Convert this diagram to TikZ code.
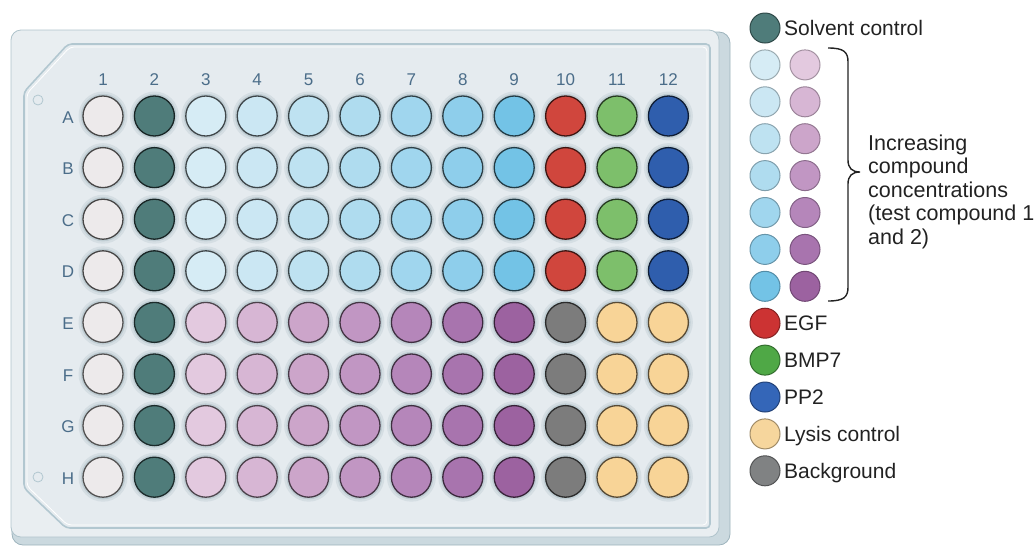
\documentclass[tikz,border=0pt]{standalone}
\usepackage{fontspec}
\setmainfont{Liberation Sans}
\definecolor{plateedge}{HTML}{CBD9DF}
\definecolor{plateedgeline}{HTML}{9DB3BC}
\definecolor{platetop}{HTML}{E9EEF1}
\definecolor{plateline}{HTML}{AFC3CB}
\definecolor{plateinner}{HTML}{E5EBEF}
\definecolor{innerline}{HTML}{B2C7D0}
\definecolor{halocol}{HTML}{8EA6B0}
\definecolor{labcol}{HTML}{4B6D89}
\definecolor{wwhite}{HTML}{EDEAEB}
\definecolor{wteal}{HTML}{4F7C7A}
\definecolor{b3}{HTML}{D6ECF5}
\definecolor{b4}{HTML}{CBE7F3}
\definecolor{b5}{HTML}{BEE2F1}
\definecolor{b6}{HTML}{AFDCEF}
\definecolor{b7}{HTML}{A0D6EE}
\definecolor{b8}{HTML}{8ECEEB}
\definecolor{b9}{HTML}{73C3E6}
\definecolor{p3}{HTML}{E3C9DF}
\definecolor{p4}{HTML}{D7B6D4}
\definecolor{p5}{HTML}{CCA5CA}
\definecolor{p6}{HTML}{C196C3}
\definecolor{p7}{HTML}{B586BA}
\definecolor{p8}{HTML}{A874AE}
\definecolor{p9}{HTML}{9C62A0}
\definecolor{wred}{HTML}{D0463D}
\definecolor{wgreen}{HTML}{7DBF6B}
\definecolor{wblue}{HTML}{2F5EAD}
\definecolor{wgray}{HTML}{7C7C7C}
\definecolor{wpeach}{HTML}{F8D497}
\definecolor{lred}{HTML}{CC3333}
\definecolor{lgreen}{HTML}{4FA846}
\definecolor{lblue}{HTML}{3466B8}
\definecolor{lpeach}{HTML}{F6D69D}
\definecolor{lgray}{HTML}{808283}
\definecolor{ink}{HTML}{222222}
\tikzset{
  well/.style={circle, minimum size=40pt, inner sep=0pt, line width=1.3pt},
  legc/.style={circle, minimum size=30pt, inner sep=0pt, line width=1pt},
  platelab/.style={font=\fontsize{17}{20}\selectfont, text=labcol, inner sep=0pt},
  leglab/.style={font=\fontsize{21}{23.5}\selectfont, text=ink, inner sep=0pt, anchor=base west},
}
\begin{document}
\begin{tikzpicture}[x=1pt,y=-1pt]
\useasboundingbox (0,0) rectangle (1036,547);
% plate body
\path[fill=plateedge, draw=plateedgeline, line width=0.8pt, rounded corners=11pt] (12,32) rectangle (730,545);
\path[fill=platetop, draw=plateline, line width=0.8pt, rounded corners=10pt] (11,30) rectangle (719,537);
\path[fill=plateinner, draw=innerline, line width=1.6pt, rounded corners=4pt]
  (68,44) -- (710,44) -- (710,528) -- (66,528) -- (24,488) -- (24,92) -- cycle;
\draw[white, line width=0.8pt, rounded corners=4pt]
  (70,47) -- (707,47) -- (707,525) -- (67.5,525) -- (27,486) -- (27,93.5) -- cycle;
% corner marks
\node[circle, draw=innerline, line width=0.8pt, minimum size=10pt, inner sep=0pt] (m1) at (38,100) {};
\node[circle, draw=innerline, line width=0.8pt, minimum size=10pt, inner sep=0pt] (m2) at (38,477) {};
% column labels
\foreach \c [count=\j from 0] in {1,...,12} {
  \pgfmathsetmacro\x{103+51.4*\j}
  \node[platelab, anchor=base] (col\c) at (\x,85) {\c};
}
% row labels
\foreach \r [count=\i from 0] in {A,B,C,D,E,F,G,H} {
  \pgfmathsetmacro\y{116+51.6*\i+7}
  \node[platelab, anchor=base] (row\r) at (68,\y) {\r};
}
% wells rows A-D
\foreach \r [count=\i from 0] in {A,B,C,D} {
  \foreach \col [count=\j from 0] in {wwhite,wteal,b3,b4,b5,b6,b7,b8,b9,wred,wgreen,wblue} {
    \pgfmathsetmacro\x{103+51.4*\j}
    \pgfmathsetmacro\y{116+51.6*\i}
    \fill[halocol, opacity=0.18] (\x,\y) circle (24.5);
    \fill[halocol, opacity=0.3] (\x,\y) circle (22.2);
    \node[well, fill=\col, draw=\col!30!black] (w\r\j) at (\x,\y) {};
  }
}
% wells rows E-H
\foreach \r [count=\i from 4] in {E,F,G,H} {
  \foreach \col [count=\j from 0] in {wwhite,wteal,p3,p4,p5,p6,p7,p8,p9,wgray,wpeach,wpeach} {
    \pgfmathsetmacro\x{103+51.4*\j}
    \pgfmathsetmacro\y{116+51.6*\i}
    \fill[halocol, opacity=0.18] (\x,\y) circle (24.5);
    \fill[halocol, opacity=0.3] (\x,\y) circle (22.2);
    \node[well, fill=\col, draw=\col!35!black] (w\r\j) at (\x,\y) {};
  }
}
% legend
\node[legc, fill=wteal, draw=wteal!60!black] (lsol) at (765,28) {};
\node[leglab] (tsol) at (784,35.5) {Solvent control};
\foreach \cb/\cp [count=\k from 1] in {b3/p3,b4/p4,b5/p5,b6/p6,b7/p7,b8/p8,b9/p9} {
  \pgfmathsetmacro\y{28+36.9*\k}
  \node[legc, fill=\cb, draw=\cb!72!black] (lb\k) at (765,\y) {};
  \node[legc, fill=\cp, draw=\cp!72!black] (lp\k) at (805,\y) {};
}
\foreach \col/\txt [count=\k from 8] in {lred/EGF,lgreen/BMP7,lblue/PP2,lpeach/Lysis control,lgray/Background} {
  \pgfmathsetmacro\y{28+36.9*\k}
  \pgfmathsetmacro\yb{\y+7.5}
  \node[legc, fill=\col, draw=\col!65!black] (lc\k) at (765,\y) {};
  \node[leglab] (lt\k) at (784,\yb) {\txt};
}
% brace
\draw[ink, line width=1.4pt]
  (828,48) .. controls (844,48) and (848,52) .. (848,62) -- (848,160)
  .. controls (848,168) and (852,172) .. (860,172)
  .. controls (852,172) and (848,176) .. (848,184) -- (848,287)
  .. controls (848,297) and (844,301) .. (828,301);
\node[font=\fontsize{21.5}{23.5}\selectfont, text=ink, inner sep=0pt, align=left, anchor=north west] (inc) at (868,134.5)
  {Increasing\\compound\\concentrations\\(test compound 1\\and 2)};
\end{tikzpicture}
\end{document}
